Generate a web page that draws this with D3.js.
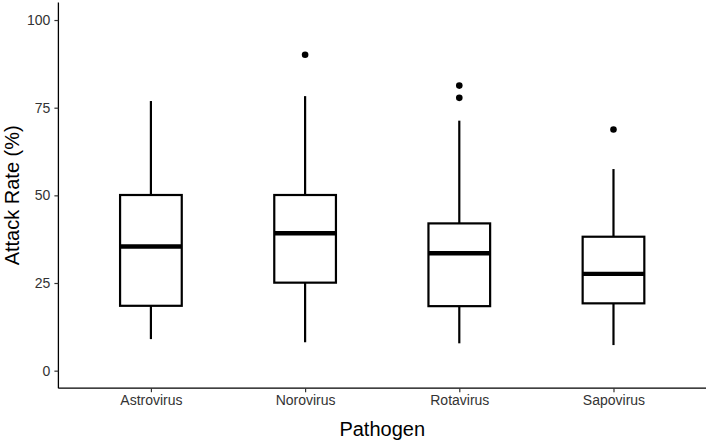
<!DOCTYPE html>
<html>
    <head>
        <title>Attack rate by pathogen</title>
        <script src="https://d3js.org/d3.v7.min.js"></script>
        <style>
            body { margin: 0; background: white; }
            svg { display: block; }
            .tick text { fill: #333333; }
        </style>
    </head>
    <body>
        <div id="chart"></div>

        <script>
            // Box summaries
            let categories  = ["Astrovirus", "Norovirus", "Rotavirus", "Sapovirus"];
            let whiskerLow  = [9.0, 8.1, 7.8, 7.3];
            let q1          = [18.5, 25.1, 18.4, 19.2];
            let median      = [35.4, 39.2, 33.5, 27.6];
            let q3          = [50.1, 50.1, 42.0, 38.2];
            let whiskerHigh = [76.9, 78.3, 71.3, 57.5];
            let outliers    = [[], [90.1], [81.3, 77.8], [68.8]];
            let yTicks      = [0, 25, 50, 75, 100];

            let canvas = { width: 709, height: 441 };
            let panel = { left: 58.4, right: 706, top: 2.5, bottom: 388.2 };

            let svg = d3.select("#chart").append("svg")
                        .attr("width", canvas.width).attr("height", canvas.height)
                        .style("font-family", "'Liberation Sans', Arial, sans-serif");

            let x = d3.scalePoint()
                      .domain(categories)
                      .range([panel.left, panel.right])
                      .padding(0.6);

            let y = d3.scaleLinear()
                      .domain([-5, 105])
                      .range([panel.bottom, panel.top]);

            let boxWidth = x.step() * 0.4;

            let rows = categories.map((c, i) => ({
                name: c, lo: whiskerLow[i], q1: q1[i], med: median[i],
                q3: q3[i], hi: whiskerHigh[i], out: outliers[i]
            }));

            //
            // Boxes
            //
            let g = svg.append("g").selectAll("g.box")
                       .data(rows).join("g").attr("class", "box");

            // whiskers
            g.append("line")
             .attr("x1", d => x(d.name)).attr("x2", d => x(d.name))
             .attr("y1", d => y(d.q3)).attr("y2", d => y(d.hi))
             .style("stroke", "black").style("stroke-width", 2.2);
            g.append("line")
             .attr("x1", d => x(d.name)).attr("x2", d => x(d.name))
             .attr("y1", d => y(d.q1)).attr("y2", d => y(d.lo))
             .style("stroke", "black").style("stroke-width", 2.2);

            g.append("rect")
             .attr("x", d => x(d.name) - boxWidth / 2)
             .attr("y", d => y(d.q3))
             .attr("width", boxWidth)
             .attr("height", d => y(d.q1) - y(d.q3))
             .style("fill", "white").style("stroke", "black").style("stroke-width", 2.2);

            g.append("line")
             .attr("x1", d => x(d.name) - boxWidth / 2).attr("x2", d => x(d.name) + boxWidth / 2)
             .attr("y1", d => y(d.med)).attr("y2", d => y(d.med))
             .style("stroke", "black").style("stroke-width", 4.4);

            g.selectAll("circle")
             .data(d => d.out.map(v => ({ name: d.name, v: v })))
             .join("circle")
             .attr("cx", d => x(d.name)).attr("cy", d => y(d.v))
             .attr("r", 3.3)
             .style("fill", "black");

            //
            // Axes
            //
            let yAxis = svg.append("g")
                           .attr("transform", "translate(" + panel.left + ",0)")
                           .call(d3.axisLeft(y).tickValues(yTicks).tickSize(4).tickPadding(4));
            let xAxis = svg.append("g")
                           .attr("transform", "translate(0," + panel.bottom + ")")
                           .call(d3.axisBottom(x).tickSize(4).tickPadding(3));

            [yAxis, xAxis].forEach(a => {
                a.select(".domain").style("stroke", "black").style("stroke-width", 1.3);
                a.selectAll(".tick line").style("stroke", "#333").style("stroke-width", 1.2);
                a.selectAll(".tick text").style("font-size", "14px").style("font-family", "'Liberation Sans', Arial, sans-serif");
            });
            yAxis.select(".domain").attr("d", "M0," + panel.top + "V" + panel.bottom);
            xAxis.select(".domain").attr("d", "M" + panel.left + ",0H" + panel.right);

            svg.append("text")
               .attr("x", (panel.left + panel.right) / 2).attr("y", 436)
               .attr("text-anchor", "middle")
               .style("font-size", "20px")
               .text("Pathogen");

            svg.append("text")
               .attr("transform", "translate(19," + y(50) + ") rotate(-90)")
               .attr("text-anchor", "middle")
               .style("font-size", "20px")
               .text("Attack Rate (%)");
        </script>
    </body>
</html>
